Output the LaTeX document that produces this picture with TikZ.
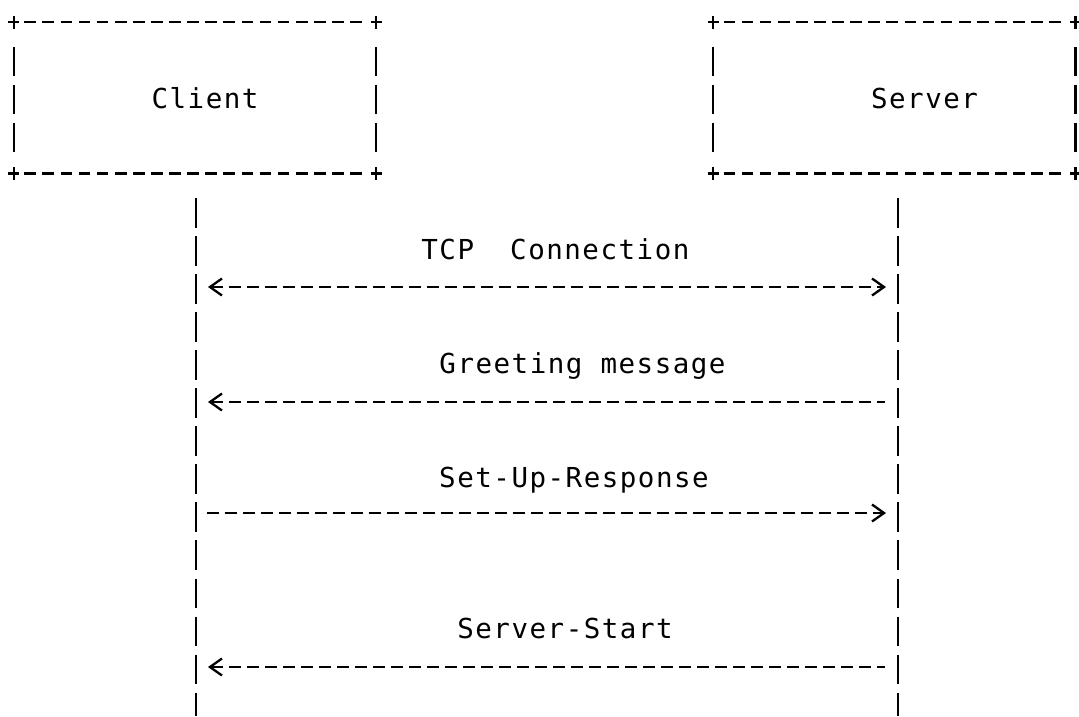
\documentclass[tikz,border=0pt]{standalone}
\usepackage{fontspec}
\newfontfamily\asciifont[LetterSpace=5.5]{DejaVu Sans Mono}
\usetikzlibrary{arrows.meta}

\tikzset{
  actor/.style={draw=none, inner sep=0pt, minimum width=362pt, minimum height=150.8pt},
  lbl/.style={anchor=base, inner sep=0pt, font=\asciifont\fontsize{27.5}{33}\selectfont},
  hrule/.style={line width=2.3pt, dash pattern=on 11.7pt off 6.4pt},
  vrule/.style={line width=2.3pt, dash pattern=on 29.5pt off 8.55pt},
  corner/.style={line width=2.3pt},
  msg/.style={line width=2.3pt, dash pattern=on 12pt off 6pt}
}

% ascii style frame round a box node
\newcommand{\asciibox}[1]{%
  \draw[hrule] ([xshift=10.5pt]#1.north west) -- ([xshift=-9pt]#1.north east);
  \draw[hrule] ([xshift=10.5pt]#1.south west) -- ([xshift=-9pt]#1.south east);
  \draw[vrule] ([yshift=-24.5pt]#1.north west) -- ([yshift=20.8pt]#1.south west);
  \draw[vrule] ([yshift=-24.5pt]#1.north east) -- ([yshift=20.8pt]#1.south east);
  \foreach \c in {north west, north east, south west, south east}
    \draw[corner] (#1.\c) +(-5.5,0) -- +(5.5,0) +(0,-6.5) -- +(0,6.5);
}

\begin{document}
\begin{tikzpicture}[x=1pt, y=-1pt, >={Straight Barb[length=12pt, width=17pt]}]
\useasboundingbox (0,0) rectangle (1079,716);

% the two ends
\node[actor] (client) at (195,97.9) {};
\node[actor] (server) at (894.2,97.9) {};
\asciibox{client}
\asciibox{server}
\node[lbl] (clientname) at (205,108.5) {Client};
\node[lbl] (servername) at (924.5,108.3) {Server};

% lifelines
\coordinate (cltop) at (196,198);
\coordinate (clbot) at (196,716);
\coordinate (svtop) at (898,198);
\coordinate (svbot) at (898,716);
\draw[vrule] (cltop) -- (clbot);
\draw[vrule] (svtop) -- (svbot);

% messages
\coordinate (c1) at (196,287);
\coordinate (s1) at (898,287);
\coordinate (c2) at (196,402);
\coordinate (s2) at (898,402);
\coordinate (c3) at (196,513);
\coordinate (s3) at (898,513);
\coordinate (c4) at (196,667);
\coordinate (s4) at (898,667);

\node[lbl] (tcp) at (555.4,259) {TCP\ \ Connection};
\draw[msg, <->, shorten <=12pt, shorten >=12pt] (c1) -- (s1);

\node[lbl] (greet) at (582.5,373) {Greeting message};
\draw[msg, <-, shorten <=12pt, shorten >=13pt] (c2) -- (s2);

\node[lbl] (setup) at (574,487) {Set-Up-Response};
\draw[msg, ->, shorten <=10.7pt, shorten >=12pt] (c3) -- (s3);

\node[lbl] (start) at (565,638.5) {Server-Start};
\draw[msg, <-, shorten <=12pt, shorten >=13pt] (c4) -- (s4);

\end{tikzpicture}
\end{document}
